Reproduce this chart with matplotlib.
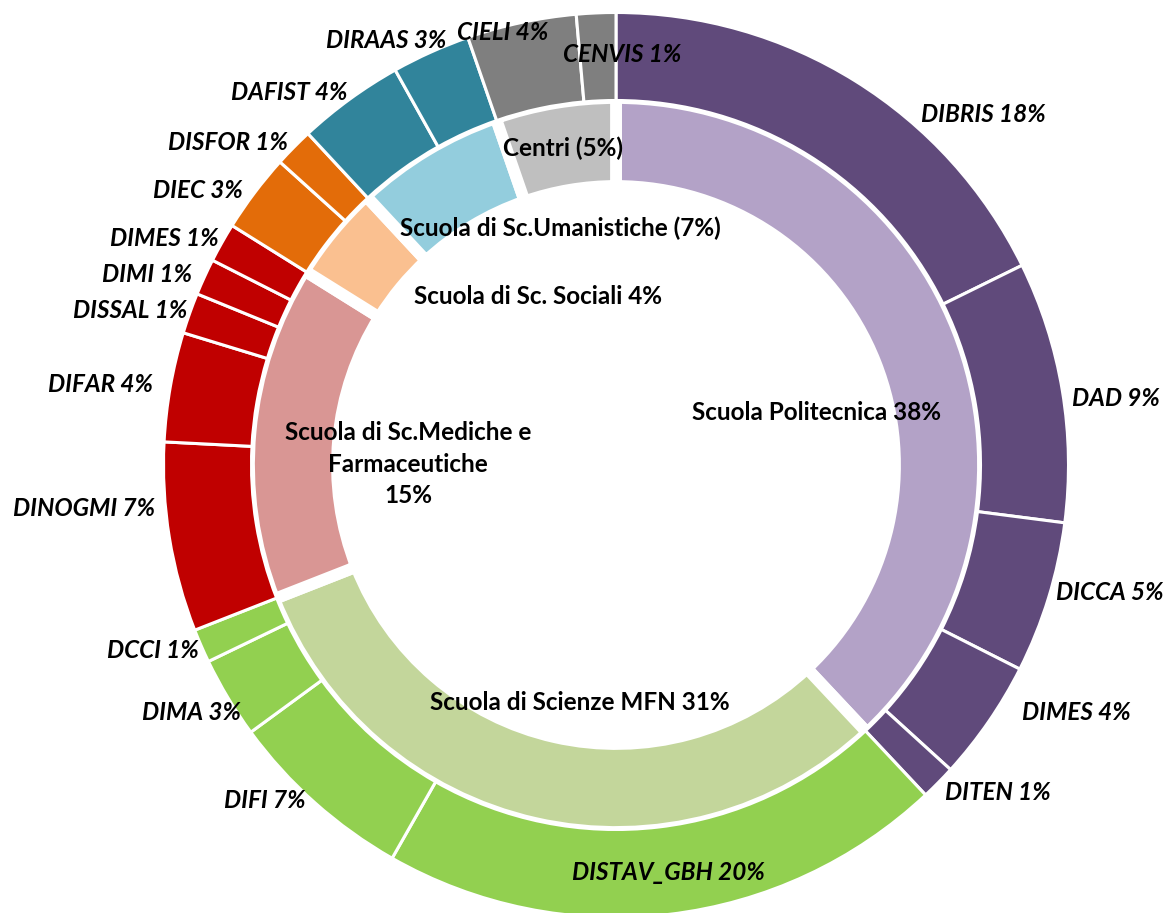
import matplotlib
matplotlib.use("Agg")
import matplotlib.pyplot as plt
import numpy as np

# Departments (outer ring), clockwise from 12 o'clock, share of total in %
departments = [
    "DIBRIS", "DAD", "DICCA", "DIMES", "DITEN",
    "DISTAV_GBH", "DIFI", "DIMA", "DCCI",
    "DINOGMI", "DIFAR", "DISSAL", "DIMI", "DIMES",
    "DIEC", "DISFOR",
    "DAFIST", "DIRAAS",
    "CIELI", "CENVIS",
]
dept_values = [
    17.7, 9.3, 5.4, 4.3, 1.25,
    20.2, 6.7, 2.9, 1.2,
    6.75, 3.9, 1.45, 1.3, 1.4,
    2.8, 1.4,
    3.8, 2.8,
    3.9, 1.4,
]
# index of the school each department belongs to
dept_school = [0] * 5 + [1] * 4 + [2] * 5 + [3] * 2 + [4] * 2 + [5] * 2

# Schools (inner ring)
school_labels = [
    "Scuola Politecnica 38%",
    "Scuola di Scienze MFN 31%",
    "Scuola di Sc.Mediche e\nFarmaceutiche\n15%",
    "Scuola di Sc. Sociali 4%",
    "Scuola di Sc.Umanistiche (7%)",
    "Centri (5%)",
]
school_dark = ["#604A7B", "#92D050", "#C00000", "#E36C09", "#31849B", "#7F7F7F"]
school_light = ["#B3A2C7", "#C3D69B", "#D99694", "#FAC090", "#93CDDD", "#BFBFBF"]

# label anchor positions in image pixels (x, y from top-left)
dept_label_pos = [
    (983, 114), (1116, 398), (1110, 592), (1076, 713), (998, 792),
    (668, 873), (265, 800), (192, 712), (153, 650),
    (84, 509), (101, 384), (130, 311), (147, 275), (164, 238),
    (198, 190), (228, 142),
    (289, 93), (386, 41),
    (503, 32), (622, 54),
]
school_label_pos = [
    (817, 413), (580, 703), (408, 464), (538, 296), (560, 228), (563, 148),
]

W, H = 1168, 913
CX, CY = 616, 465
FONT = ["Lato", "DejaVu Sans"]

school_values = np.zeros(len(school_labels))
for v, s in zip(dept_values, dept_school):
    school_values[s] += v

fig = plt.figure(figsize=(W / 100, H / 100), dpi=100)
ax = fig.add_axes([0, 0, 1, 1])
ax.set_aspect("equal")
ax.axis("off")

# inner ring (schools), thick white separators
ax.pie(
    school_values,
    radius=367,
    startangle=90,
    counterclock=False,
    colors=school_light,
    wedgeprops=dict(width=88, edgecolor="white", linewidth=8.5),
)

# outer ring (departments)
ax.pie(
    dept_values,
    radius=452.5,
    startangle=90,
    counterclock=False,
    colors=[school_dark[s] for s in dept_school],
    wedgeprops=dict(width=88, edgecolor="white", linewidth=2.2),
)
ax.set_xlim(-CX, W - CX)
ax.set_ylim(-(H - CY), CY)

total = sum(dept_values)
for name, v, (px, py) in zip(departments, dept_values, dept_label_pos):
    ax.text(px - CX, CY - py, f"{name} {round(v / total * 100)}%",
            ha="center", va="center", fontsize=17.5, fontweight="bold",
            fontstyle="italic", family=FONT)

for lab, (px, py) in zip(school_labels, school_label_pos):
    ax.text(px - CX, CY - py, lab, ha="center", va="center",
            fontsize=17.5, fontweight="bold", family=FONT,
            linespacing=1.45)

fig.savefig("out.png", dpi=100, facecolor="white")
